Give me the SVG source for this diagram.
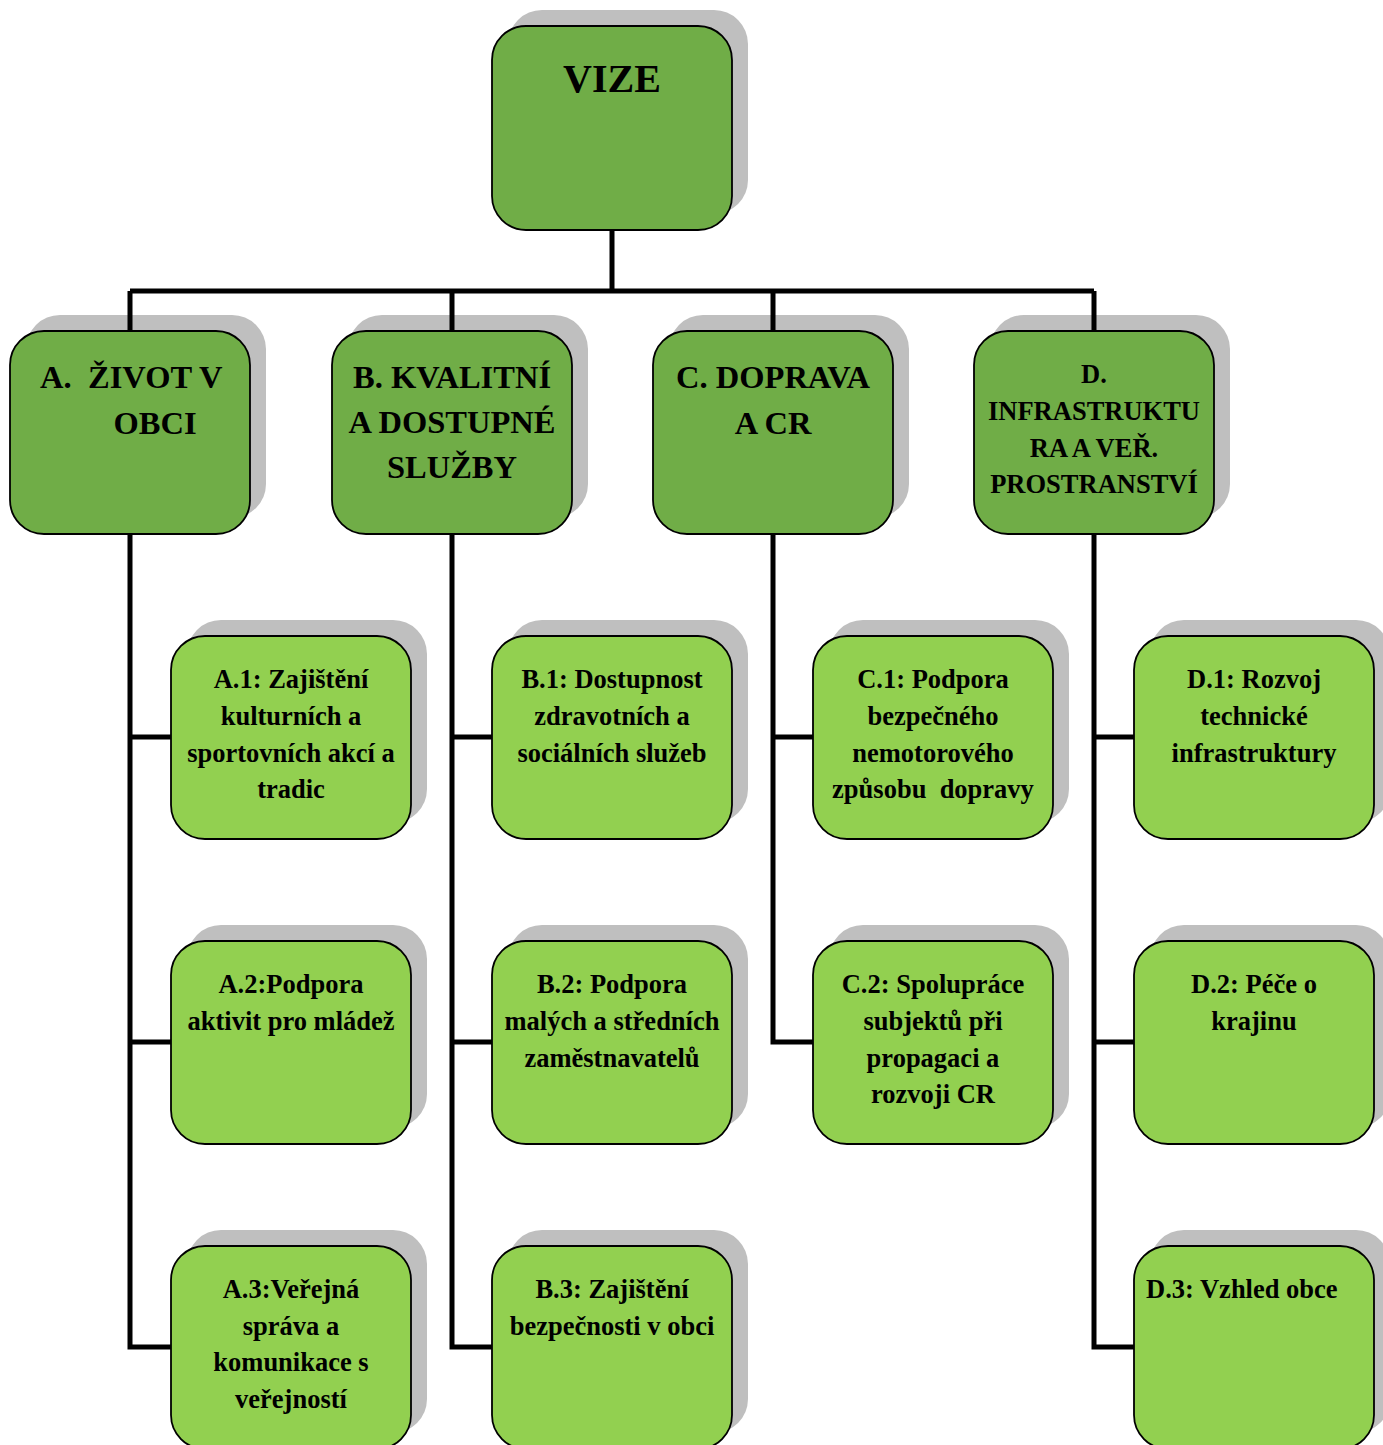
<svg xmlns="http://www.w3.org/2000/svg" width="1383" height="1445" viewBox="0 0 1383 1445">
<style>
.sh{fill:#BFBFBF}
.top{fill:#70AD47;stroke:#000;stroke-width:1.8}
.leaf{fill:#92D050;stroke:#000;stroke-width:1.8}
.cn{fill:none;stroke:#000;stroke-width:5}
text{font-family:"Liberation Serif","Times New Roman",serif;font-weight:bold;fill:#000;text-anchor:middle}
.t0{font-size:40px}
.t1{font-size:32.5px}
.t1d{font-size:26.5px}
.t2{font-size:26.5px}
</style>
<rect width="1383" height="1445" fill="#fff"/>
<g id="shadows">
<rect class="sh" x="508" y="10" width="240" height="204" rx="34"/>
<rect class="sh" x="26" y="315" width="240" height="203" rx="34"/>
<rect class="sh" x="348" y="315" width="240" height="203" rx="34"/>
<rect class="sh" x="669" y="315" width="240" height="203" rx="34"/>
<rect class="sh" x="990" y="315" width="240" height="203" rx="34"/>
<rect class="sh" x="187" y="620" width="240" height="203" rx="34"/>
<rect class="sh" x="187" y="925" width="240" height="203" rx="34"/>
<rect class="sh" x="187" y="1230" width="240" height="203" rx="34"/>
<rect class="sh" x="508" y="620" width="240" height="203" rx="34"/>
<rect class="sh" x="508" y="925" width="240" height="203" rx="34"/>
<rect class="sh" x="508" y="1230" width="240" height="203" rx="34"/>
<rect class="sh" x="829" y="620" width="240" height="203" rx="34"/>
<rect class="sh" x="829" y="925" width="240" height="203" rx="34"/>
<rect class="sh" x="1150" y="620" width="240" height="203" rx="34"/>
<rect class="sh" x="1150" y="925" width="240" height="203" rx="34"/>
<rect class="sh" x="1150" y="1230" width="240" height="203" rx="34"/>
</g>
<g id="connectors">
<path class="cn" d="M612 230V291M130 291H1094M130 291V331M452 291V331M773 291V331M1094 291V331"/>
<path class="cn" d="M130 534V1347H171M130 737H171M130 1042H171"/>
<path class="cn" d="M452 534V1347H492M452 737H492M452 1042H492"/>
<path class="cn" d="M773 534V1042H813M773 737H813"/>
<path class="cn" d="M1094 534V1347H1134M1094 737H1134M1094 1042H1134"/>
</g>
<g id="vize">
<rect class="top" x="492" y="26" width="240" height="204" rx="34"/>
<text class="t0" x="612" y="92">VIZE</text>
</g>
<g id="A">
<rect class="top" x="10" y="331" width="240" height="203" rx="34"/>
<text class="t1" x="40" y="388" style="text-anchor:start">A.</text>
<text class="t1" x="88" y="388" style="text-anchor:start">ŽIVOT V</text>
<text class="t1" x="155" y="434">OBCI</text>
</g>
<g id="B">
<rect class="top" x="332" y="331" width="240" height="203" rx="34"/>
<text class="t1" x="452" y="388">B. KVALITNÍ</text>
<text class="t1" x="452" y="433">A DOSTUPNÉ</text>
<text class="t1" x="452" y="478">SLUŽBY</text>
</g>
<g id="C">
<rect class="top" x="653" y="331" width="240" height="203" rx="34"/>
<text class="t1" x="773" y="388">C. DOPRAVA</text>
<text class="t1" x="773" y="434">A CR</text>
</g>
<g id="D">
<rect class="top" x="974" y="331" width="240" height="203" rx="34"/>
<text class="t1d" x="1094" y="383">D.</text>
<text class="t1d" x="1094" y="420">INFRASTRUKTU</text>
<text class="t1d" x="1094" y="457">RA A VEŘ.</text>
<text class="t1d" x="1094" y="493">PROSTRANSTVÍ</text>
</g>
<g id="A1">
<rect class="leaf" x="171" y="636" width="240" height="203" rx="34"/>
<text class="t2" x="291" y="688">A.1: Zajištění</text>
<text class="t2" x="291" y="725">kulturních a</text>
<text class="t2" x="291" y="762">sportovních akcí a</text>
<text class="t2" x="291" y="798">tradic</text>
</g>
<g id="A2">
<rect class="leaf" x="171" y="941" width="240" height="203" rx="34"/>
<text class="t2" x="291" y="993">A.2:Podpora</text>
<text class="t2" x="291" y="1030">aktivit pro mládež</text>
</g>
<g id="A3">
<rect class="leaf" x="171" y="1246" width="240" height="203" rx="34"/>
<text class="t2" x="291" y="1298">A.3:Veřejná</text>
<text class="t2" x="291" y="1335">správa a</text>
<text class="t2" x="291" y="1371">komunikace s</text>
<text class="t2" x="291" y="1408">veřejností</text>
</g>
<g id="B1">
<rect class="leaf" x="492" y="636" width="240" height="203" rx="34"/>
<text class="t2" x="612" y="688">B.1: Dostupnost</text>
<text class="t2" x="612" y="725">zdravotních a</text>
<text class="t2" x="612" y="762">sociálních služeb</text>
</g>
<g id="B2">
<rect class="leaf" x="492" y="941" width="240" height="203" rx="34"/>
<text class="t2" x="612" y="993">B.2: Podpora</text>
<text class="t2" x="612" y="1030">malých a středních</text>
<text class="t2" x="612" y="1067">zaměstnavatelů</text>
</g>
<g id="B3">
<rect class="leaf" x="492" y="1246" width="240" height="203" rx="34"/>
<text class="t2" x="612" y="1298">B.3: Zajištění</text>
<text class="t2" x="612" y="1335">bezpečnosti v obci</text>
</g>
<g id="C1">
<rect class="leaf" x="813" y="636" width="240" height="203" rx="34"/>
<text class="t2" x="933" y="688">C.1: Podpora</text>
<text class="t2" x="933" y="725">bezpečného</text>
<text class="t2" x="933" y="762">nemotorového</text>
<text class="t2" x="933" y="798" xml:space="preserve">způsobu  dopravy</text>
</g>
<g id="C2">
<rect class="leaf" x="813" y="941" width="240" height="203" rx="34"/>
<text class="t2" x="933" y="993">C.2: Spolupráce</text>
<text class="t2" x="933" y="1030">subjektů při</text>
<text class="t2" x="933" y="1067">propagaci a</text>
<text class="t2" x="933" y="1103">rozvoji CR</text>
</g>
<g id="D1">
<rect class="leaf" x="1134" y="636" width="240" height="203" rx="34"/>
<text class="t2" x="1254" y="688">D.1: Rozvoj</text>
<text class="t2" x="1254" y="725">technické</text>
<text class="t2" x="1254" y="762">infrastruktury</text>
</g>
<g id="D2">
<rect class="leaf" x="1134" y="941" width="240" height="203" rx="34"/>
<text class="t2" x="1254" y="993">D.2: Péče o</text>
<text class="t2" x="1254" y="1030">krajinu</text>
</g>
<g id="D3">
<rect class="leaf" x="1134" y="1246" width="240" height="203" rx="34"/>
<text class="t2" x="1146" y="1298" style="text-anchor:start">D.3: Vzhled obce</text>
</g>
</svg>
